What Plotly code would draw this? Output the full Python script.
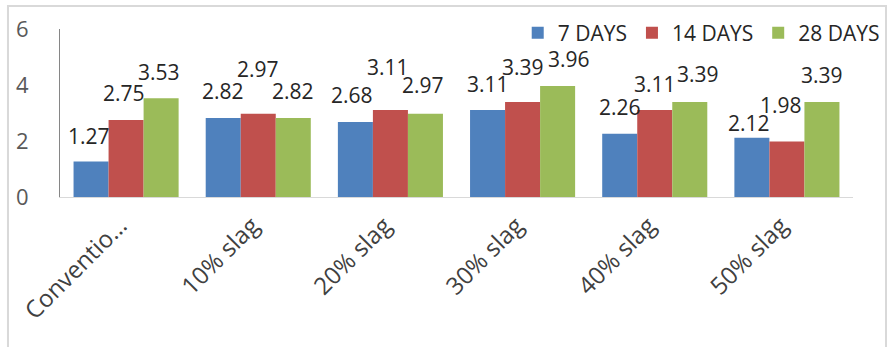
import plotly.graph_objects as go

categories = ["Conventio…", "10% slag", "20% slag", "30% slag", "40% slag", "50% slag"]
series_names = ["7 DAYS", "14 DAYS", "28 DAYS"]
days7 = [1.27, 2.82, 2.68, 3.11, 2.26, 2.12]
days14 = [2.75, 2.97, 3.11, 3.39, 3.11, 1.98]
days28 = [3.53, 2.82, 2.97, 3.96, 3.39, 3.39]
y_ticks = [0, 2, 4, 6]

# styling
colors = ["#4F81BD", "#C0504D", "#9BBB59"]
series_xshift = [-35, 0, 35]
label_yshift = [
    [25, 27, 27, 26, 27, 15],
    [27, 45, 43, 35, 26, 37],
    [26, 27, 29, 27, 28, 27],
]
label_dx = [
    [-2, 0, -3, 0, 0, -3],
    [-2, 0, -2, 0, 0, -6],
    [-2, 0, -2, 11, 8, 0],
]
FONT = "Open Sans"

fig = go.Figure()
all_series = [days7, days14, days28]
for name, vals, col in zip(series_names, all_series, colors):
    fig.add_trace(go.Bar(x=categories, y=vals, name=name, marker=dict(color=col, line=dict(width=0))))

annotations = []
for si, vals in enumerate(all_series):
    for ci, (cat, v) in enumerate(zip(categories, vals)):
        annotations.append(dict(
            x=cat, y=v, xref="x", yref="y", text=f"{v:.2f}", showarrow=False,
            xanchor="center", yanchor="middle",
            xshift=series_xshift[si] + label_dx[si][ci], yshift=label_yshift[si][ci],
            font=dict(family=FONT, size=21, color="#262626"),
        ))

fig.update_layout(
    width=888, height=347,
    margin=dict(l=60, r=35, t=29, b=150, autoexpand=False),
    paper_bgcolor="white", plot_bgcolor="white",
    barmode="group", bargap=0.205, bargroupgap=0,
    font=dict(family=FONT, color="#404040"),
    showlegend=True,
    legend=dict(orientation="h", x=1.04, xanchor="right", y=0.976, yanchor="middle",
                bgcolor="rgba(0,0,0,0)", font=dict(family=FONT, size=21, color="#262626"),
                itemwidth=30, tracegroupgap=0),
    annotations=annotations,
    shapes=[dict(type="rect", xref="paper", yref="paper", x0=-0.0656, x1=1.0416, y0=-0.95, y1=1.137,
                 line=dict(color="#d9d9d9", width=2), fillcolor="rgba(0,0,0,0)", layer="below")],
)
fig.update_yaxes(range=[0, 6], tickvals=y_ticks, showgrid=False, zeroline=False,
                 showline=True, linecolor="#868686", linewidth=1, ticks="",
                 tickfont=dict(family=FONT, size=22, color="#595959"), ticklabelstandoff=26)
fig.update_xaxes(showgrid=False, showline=True, linecolor="#d9d9d9", linewidth=1, ticks="",
                 tickangle=-45, tickfont=dict(family=FONT, size=24, color="#404040"),
                 ticklabelshift=-6, ticklabelstandoff=4)

fig.write_html("out.html")
